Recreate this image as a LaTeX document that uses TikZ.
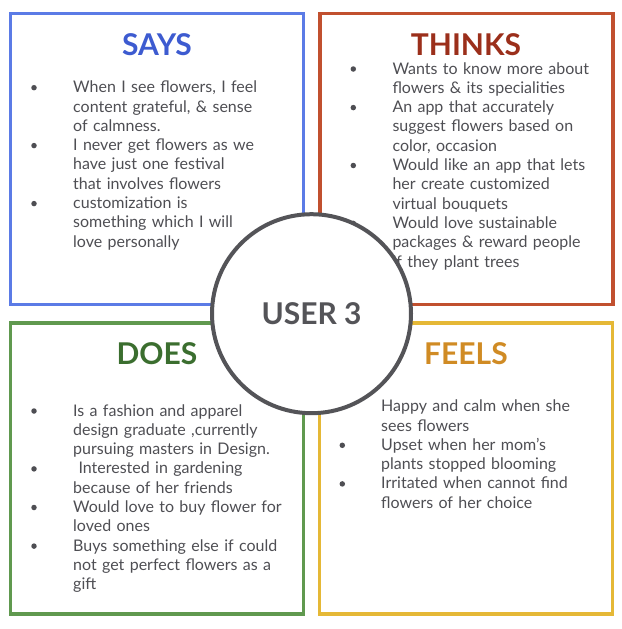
\documentclass[tikz,border=0pt]{standalone}
\usepackage{fontspec}
\setmainfont{Lato}
\definecolor{saysline}{HTML}{5B7BE6}
\definecolor{saystitle}{HTML}{3D5BD0}
\definecolor{thinksline}{HTML}{C1502F}
\definecolor{thinkstitle}{HTML}{9B2F1B}
\definecolor{doesline}{HTML}{60994F}
\definecolor{doestitle}{HTML}{3B6E2F}
\definecolor{feelsline}{HTML}{E5B836}
\definecolor{feelstitle}{HTML}{D08B24}
\definecolor{ink}{HTML}{4E4E53}
\definecolor{ring}{HTML}{545458}

\begin{document}
\begin{tikzpicture}[
  x=1pt,y=-1pt,
  every node/.style={inner sep=0pt},
  quad/.style={draw=#1,line width=3.2pt,minimum width=293pt,minimum height=291pt},
  ttl/.style={text=#1,font=\fontsize{30}{36}\selectfont\bfseries,anchor=base},
  item/.style={text=ink,font=\fontsize{16}{19.3}\selectfont,text width=230pt,align=left,anchor=base west},
  dot/.style={circle,fill=ink,minimum size=5.5pt},
  hub/.style={circle,draw=ring,fill=white,line width=4pt,minimum size=199pt,text=ring,
              font=\fontsize{30}{36}\selectfont\bfseries}]

\useasboundingbox (0,0) rectangle (621,629);

% ---- the four quadrants ----
\node[quad=saysline]   (says)   at (157,159)   {};
\node[quad=thinksline] (thinks) at (466.5,159) {};
\node[quad=doesline]   (does)   at (157,468.5) {};
\node[quad=feelsline]  (feels)  at (466,468.5) {};

\node[ttl=saystitle]   (saysttl)   at (157,55)   {SAYS};
\node[ttl=thinkstitle] (thinksttl) at (466,55)   {THINKS};
\node[ttl=doestitle]   (doesttl)   at (157,364)  {DOES};
\node[ttl=feelstitle]  (feelsttl)  at (466,364)  {FEELS};

% ---- says ----
\node[item] (s1) at (73,92.7)  {When I see flowers, I feel\\content grateful, \& sense\\of calmness.};
\node[item] (s2) at (73,150.6) {I never get flowers as we\\have just one festival\\that involves flowers};
\node[item] (s3) at (73,208.6) {customization is\\something which I will\\love personally};

% ---- thinks ----
\node[item] (t1) at (392.3,74)    {Wants to know more about\\flowers \& its specialities};
\node[item] (t2) at (392.3,112.6) {An app that accurately\\suggest flowers based on\\color, occasion};
\node[item] (t3) at (392.3,170.5) {Would like an app that lets\\her create customized\\virtual bouquets};
\node[item] (t4) at (392.3,228.4) {Would love sustainable\\packages \& reward people\\if they plant trees};

% ---- does ----
\node[item] (d1) at (73,416)   {Is a fashion and apparel\\design graduate ,currently\\pursuing masters in Design.};
\node[item] (d2) at (73,473.9) {\ Interested in gardening\\because of her friends};
\node[item] (d3) at (73,512.5) {Would love to buy flower for\\loved ones};
\node[item] (d4) at (73,551.1) {Buys something else if could\\not get perfect flowers as a\\gift};

% ---- feels ----
\node[item] (f1) at (381,411.7) {Happy and calm when she\\sees flowers};
\node[item] (f2) at (381,450.3) {Upset when her mom's\\plants stopped blooming};
\node[item] (f3) at (381,488.9) {Irritated when cannot find\\flowers of her choice};

\foreach \n/\x/\y in {sb1/34/87.7,sb2/34/145.6,sb3/34/203.6,
                      tb1/353.3/69,tb2/353.3/107.6,tb3/353.3/165.5,tb4/353.3/223.4,
                      db1/34/411,db2/34/468.9,db3/34/507.5,db4/34/546.1,
                      fb1/342.3/406.7,fb2/342.3/445.3,fb3/342.3/483.9}
  \node[dot] (\n) at (\x,\y) {};

% ---- the user in the middle ----
\node[hub] (user) at (311.5,313.7) {USER 3};
\end{tikzpicture}
\end{document}
